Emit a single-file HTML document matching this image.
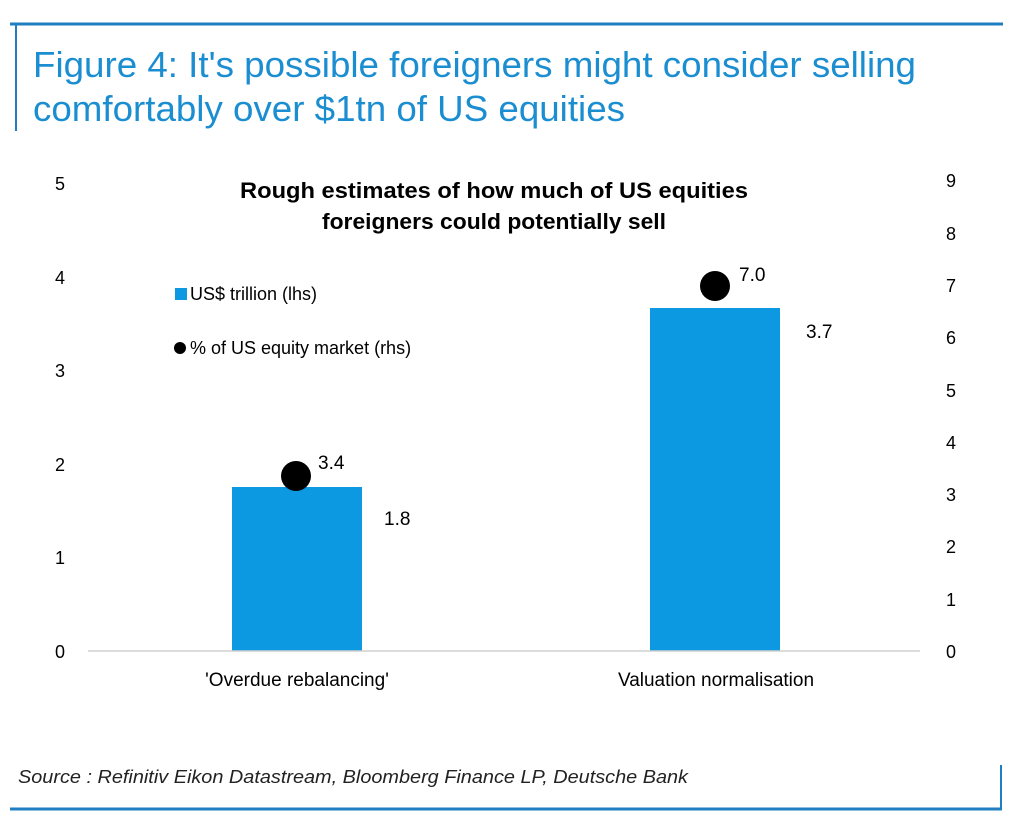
<!DOCTYPE html>
<html><head><meta charset="utf-8"><style>
html,body{margin:0;padding:0;background:#fff;}
svg{display:block;}
</style></head><body>
<svg width="1024" height="820" xmlns="http://www.w3.org/2000/svg" font-family="Liberation Sans, sans-serif">
<rect width="1024" height="820" fill="#fff"/>
<line x1="10" y1="24" x2="1003" y2="24" stroke="#1f7fc0" stroke-width="3"/>
<line x1="16" y1="24" x2="16" y2="131" stroke="#1f7fc0" stroke-width="2"/>
<text x="33" y="77" font-size="36" fill="#1b8ed1" textLength="883" lengthAdjust="spacingAndGlyphs">Figure 4: It's possible foreigners might consider selling</text>
<text x="33" y="121" font-size="36" fill="#1b8ed1" textLength="592" lengthAdjust="spacingAndGlyphs">comfortably over $1tn of US equities</text>

<text x="494" y="198" font-size="22" font-weight="bold" text-anchor="middle" fill="#000" textLength="508" lengthAdjust="spacingAndGlyphs">Rough estimates of how much of US equities</text>
<text x="494" y="229" font-size="22" font-weight="bold" text-anchor="middle" fill="#000" textLength="344" lengthAdjust="spacingAndGlyphs">foreigners could potentially sell</text>

<g font-size="18" fill="#000" text-anchor="middle">
<text x="60" y="658">0</text><text x="60" y="564">1</text><text x="60" y="471">2</text><text x="60" y="377">3</text><text x="60" y="284">4</text><text x="60" y="190">5</text>
<text x="951" y="658">0</text><text x="951" y="606">1</text><text x="951" y="553">2</text><text x="951" y="501">3</text><text x="951" y="449">4</text><text x="951" y="397">5</text><text x="951" y="344">6</text><text x="951" y="292">7</text><text x="951" y="240">8</text><text x="951" y="187">9</text>
</g>
<rect x="232" y="487" width="130" height="164" fill="#0c99e2"/>
<rect x="650" y="308" width="130" height="343" fill="#0c99e2"/>
<line x1="88" y1="651" x2="920" y2="651" stroke="#d0d0d0" stroke-width="1.5"/>
<circle cx="296" cy="476" r="15" fill="#000"/>
<circle cx="715" cy="286" r="15" fill="#000"/>
<g font-size="19" fill="#000">
<text x="318" y="469">3.4</text>
<text x="384" y="525">1.8</text>
<text x="739" y="281">7.0</text>
<text x="806" y="338">3.7</text>
</g>
<rect x="175" y="288" width="12" height="12" fill="#0c99e2"/>
<text x="190" y="300" font-size="18" fill="#000">US$ trillion (lhs)</text>
<circle cx="180" cy="348" r="6" fill="#000"/>
<text x="190" y="354" font-size="18" fill="#000">% of US equity market (rhs)</text>
<g font-size="19" fill="#000" text-anchor="middle">
<text x="297" y="686">'Overdue rebalancing'</text>
<text x="716" y="686">Valuation normalisation</text>
</g>
<text x="18" y="783" font-size="18" font-style="italic" fill="#222" textLength="670" lengthAdjust="spacingAndGlyphs">Source : Refinitiv Eikon Datastream, Bloomberg Finance LP, Deutsche Bank</text>
<line x1="1001" y1="765" x2="1001" y2="810" stroke="#1f7fc0" stroke-width="2"/>
<line x1="10" y1="809" x2="1002" y2="809" stroke="#1f7fc0" stroke-width="3"/>
</svg>
</body></html>
